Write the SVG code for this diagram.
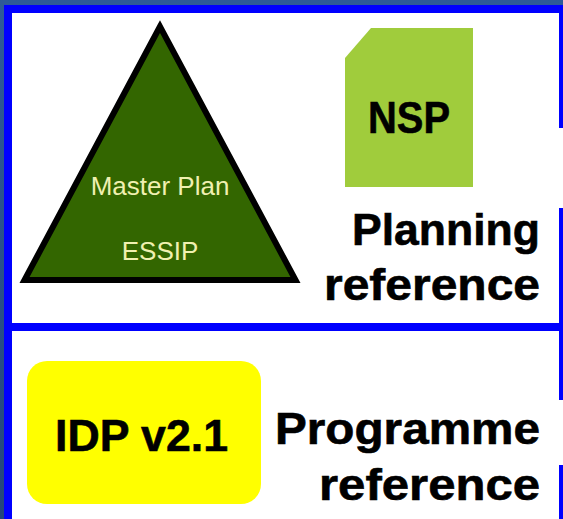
<svg xmlns="http://www.w3.org/2000/svg" width="563" height="519" viewBox="0 0 563 519">
<defs>
<linearGradient id="bg" x1="0" y1="0" x2="0" y2="1">
<stop offset="0" stop-color="#2e5b98"/>
<stop offset="1" stop-color="#24467a"/>
</linearGradient>
</defs>
<style>
.frame{fill:#0000ff}
.big{font-family:"Liberation Sans",Arial,sans-serif;font-weight:bold;font-size:44px;fill:#000;stroke:#000;stroke-width:0.6px}
.small{font-family:"Liberation Sans",Arial,sans-serif;font-size:26px;fill:#f0f0b0;text-anchor:middle}
</style>
<rect x="0" y="0" width="563" height="519" fill="url(#bg)"/>
<rect x="4" y="5" width="559" height="514" fill="#ffffff"/>
<g id="frame">
<rect class="frame" x="4" y="5" width="559" height="8"/>
<rect class="frame" x="4" y="5" width="8" height="514"/>
<rect class="frame" x="4" y="323" width="559" height="8"/>
<rect class="frame" x="559" y="5" width="4" height="123"/>
<rect class="frame" x="559" y="208" width="4" height="192"/>
<rect class="frame" x="559" y="465" width="4" height="54"/>
</g>
<g id="master-plan">
<polygon points="160,26.5 24.5,280 295.5,280" fill="#336600" stroke="#000" stroke-width="6" stroke-linejoin="miter"/>
<text class="small" x="160" y="195">Master Plan</text>
<text class="small" x="160" y="260">ESSIP</text>
</g>
<g id="nsp">
<polygon points="371,28 473,28 473,187 345,187 345,58" fill="#a0cc3c"/>
<text class="big" x="409" y="133" text-anchor="middle" font-size="38" textLength="82" lengthAdjust="spacingAndGlyphs">NSP</text>
</g>
<g id="planning-label">
<text class="big" x="540" y="245" text-anchor="end" textLength="188" lengthAdjust="spacingAndGlyphs">Planning</text>
<text class="big" x="540" y="300" text-anchor="end" textLength="216" lengthAdjust="spacingAndGlyphs">reference</text>
</g>
<g id="idp">
<rect x="27" y="361" width="234" height="143" rx="20" ry="20" fill="#ffff00"/>
<text class="big" x="141.5" y="451" text-anchor="middle" textLength="173" lengthAdjust="spacingAndGlyphs">IDP v2.1</text>
</g>
<g id="programme-label">
<text class="big" x="540" y="444" text-anchor="end" textLength="265" lengthAdjust="spacingAndGlyphs">Programme</text>
<text class="big" x="540" y="500" text-anchor="end" textLength="221" lengthAdjust="spacingAndGlyphs">reference</text>
</g>
</svg>
